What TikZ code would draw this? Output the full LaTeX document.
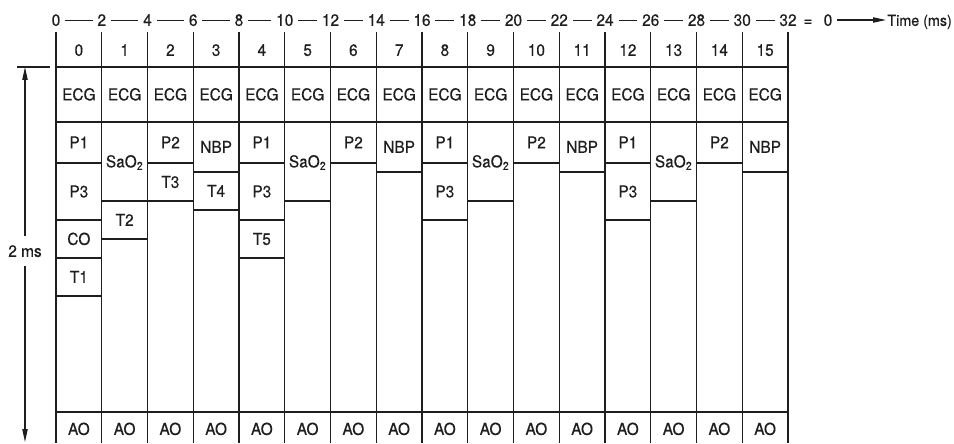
\documentclass[tikz,border=0pt]{standalone}
\usepackage{fontspec}
\setmainfont[FakeStretch=0.94,FakeBold=0.35]{TeX Gyre Heros}
\usetikzlibrary{arrows.meta}
\definecolor{Ink}{HTML}{1E1E1E}

\begin{document}
\begin{tikzpicture}[x=0.03cm,y=-0.03cm,
    grid/.style={Ink,line width=0.9pt},
    lbl/.style={text=Ink,inner sep=0pt,text height=10pt,text depth=0pt,font=\fontsize{14}{17}\selectfont},
    tick/.style={text=Ink,inner sep=4pt,text height=10pt,text depth=0pt,font=\fontsize{14}{17}\selectfont},
    tip/.style={-{Triangle[length=11pt,width=4.5pt]}}]
  \useasboundingbox (0,0) rectangle (954,443);

  % slot grid
  \foreach \i in {0,...,16}{\draw[grid] ({56+45.75*\i},32) -- ({56+45.75*\i},443);}
  \draw[grid] (56,67) -- (788,67);
  \draw[grid] (56,122) -- (788,122);
  \draw[grid] (56,412) -- (788,412);
  \draw[grid] (17,67) -- (50,67);

  % time axis
  \foreach \i [evaluate=\i as \v using int(2*\i)] in {0,...,16}
    {\node[tick] (t\i) at ({56+45.75*\i},20) {\v};}
  \foreach \i [evaluate=\i as \j using int(\i+1)] in {0,...,15}
    {\draw[grid,line width=0.7pt] (t\i) -- (t\j);}
  \node[tick] (eq) at (808,20) {=};
  \node[tick] (zero) at (828,20) {0};
  \node[tick,anchor=west,inner sep=1pt,font=\fontsize{13}{16}\selectfont] (time) at (886,20) {Time (ms)};
  \draw[grid,tip] (zero) -- (time);

  % slot numbers, ECG and AO rows
  \foreach \i in {0,...,15}{
    \node[lbl] (hd\i) at ({78.875+45.75*\i},50) {\i};
    \node[lbl] (ecg\i) at ({78.875+45.75*\i},94.5) {ECG};
    \node[lbl] (ao\i) at ({78.875+45.75*\i},429) {AO};
  }

  % channels per slot
  \foreach \c/\t/\b/\l in {
      0/122/163/P1, 0/163/220/P3, 0/220/258/CO, 0/258/296/T1,
      1/122/201/SaO\textsubscript{2}, 1/201/239/T2,
      2/122/163/P2, 2/163/201/T3,
      3/122/172/NBP, 3/172/210/T4,
      4/122/163/P1, 4/163/220/P3, 4/220/258/T5,
      5/122/201/SaO\textsubscript{2},
      6/122/163/P2,
      7/122/172/NBP,
      8/122/163/P1, 8/163/220/P3,
      9/122/201/SaO\textsubscript{2},
      10/122/163/P2,
      11/122/172/NBP,
      12/122/163/P1, 12/163/220/P3,
      13/122/201/SaO\textsubscript{2},
      14/122/163/P2,
      15/122/172/NBP}
    {\node[lbl] (cell\c-\t) at ({78.875+45.75*\c},{(\t+\b)/2}) {\l};
     \draw[grid] ({56+45.75*\c},\b) -- ({101.75+45.75*\c},\b);}

  % frame length
  \node[tick,inner sep=8pt] (ms) at (25,251) {2 ms};
  \coordinate (top) at (25,67);
  \coordinate (bot) at (25,442);
  \draw[grid,tip] (ms) -- (top);
  \draw[grid,tip] (ms) -- (bot);
\end{tikzpicture}
\end{document}
